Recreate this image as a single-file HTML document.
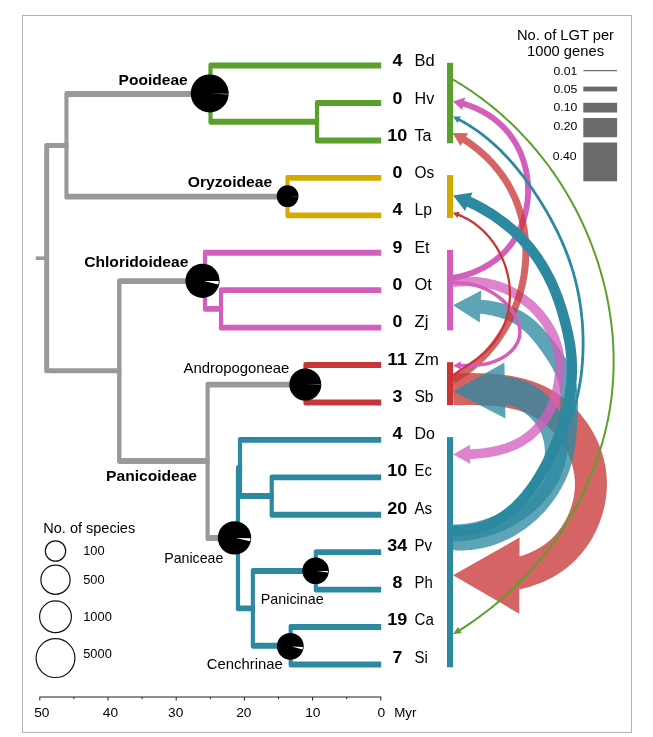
<!DOCTYPE html>
<html><head><meta charset="utf-8"><title>LGT among grasses</title>
<style>html,body{margin:0;padding:0;background:#fff;}svg{display:block;}text{font-family:"Liberation Sans",sans-serif;}</style></head><body>
<svg width="653" height="737" viewBox="0 0 653 737">
<rect x="0" y="0" width="653" height="737" fill="#fff"/>
<rect x="22.5" y="15.5" width="609" height="717" fill="none" stroke="#b4b4b4" stroke-width="1"/>
<path d="M35.8,258.2 H46.7" fill="none" stroke="#999999" stroke-width="3.6" stroke-linejoin="miter" stroke-linecap="butt" />
<path d="M68.5,142.9 H46.5 A2.2,2.2 0 0 0 44.2,145.1 V371 A2.2,2.2 0 0 0 46.5,373.2 H121.3 V368.2 H49.2 V147.9 H68.5 Z" fill="#999999"/>
<path d="M209,91 H66.6 A2.2,2.2 0 0 0 64.4,93.2 V197.4 A2.2,2.2 0 0 0 66.6,199.6 H287.5 V193.8 H68.5 V97 H209 Z" fill="#999999"/>
<path d="M202,278.2 H119.3 A2.2,2.2 0 0 0 117.1,280.4 V461.8 A2.2,2.2 0 0 0 119.3,463.9 H209.7 V458.1 H121.5 V284.1 H202 Z" fill="#999999"/>
<path d="M305.4,381.7 H207.7 A2.2,2.2 0 0 0 205.5,383.9 V538.8 A2.2,2.2 0 0 0 207.7,541 H235 V535 H209.7 V387.6 H305.4 Z" fill="#999999"/>
<path d="M381.2,62.6 H210.6 A2.2,2.2 0 0 0 208.4,64.8 V122.5 A2.2,2.2 0 0 0 210.6,124.7 H319.1 V118.8 H212.6 V68.5 H381.2 Z" fill="#5aa02c"/>
<path d="M381.2,100.1 H317.1 A2.2,2.2 0 0 0 314.9,102.3 V141.2 A2.2,2.2 0 0 0 317.1,143.4 H381.2 V137.5 H319.1 V106 H381.2 Z" fill="#5aa02c"/>
<path d="M381.2,174.9 H287.6 A2.2,2.2 0 0 0 285.4,177.1 V216.1 A2.2,2.2 0 0 0 287.6,218.3 H381.2 V212.4 H289.6 V180.8 H381.2 Z" fill="#d4aa00"/>
<path d="M381.2,249.8 H205.1 A2.2,2.2 0 0 0 202.9,252 V309.6 A2.2,2.2 0 0 0 205.1,311.8 H223.1 V305.9 H207.1 V255.7 H381.2 Z" fill="#d35fbc"/>
<path d="M381.2,287.2 H221.1 A2.2,2.2 0 0 0 218.9,289.4 V328.4 A2.2,2.2 0 0 0 221.1,330.6 H381.2 V324.7 H223.1 V293.1 H381.2 Z" fill="#d35fbc"/>
<path d="M381.2,362.1 H305.6 A2.2,2.2 0 0 0 303.4,364.3 V403.2 A2.2,2.2 0 0 0 305.6,405.4 H381.2 V399.5 H307.6 V368 H381.2 Z" fill="#c83737"/>
<path d="M242.1,465 H238.1 A2.2,2.2 0 0 0 235.9,467.2 V609.1 A2.2,2.2 0 0 0 238.1,611.3 H254.9 V605.4 H240.1 V470.9 H242.1 Z" fill="#2c89a0"/>
<path d="M381.2,436.9 H240.1 A2.2,2.2 0 0 0 237.9,439.1 V496.8 A2.2,2.2 0 0 0 240.1,499 H273.8 V493.1 H242.1 V442.8 H381.2 Z" fill="#2c89a0"/>
<path d="M381.2,474.4 H271.8 A2.2,2.2 0 0 0 269.6,476.6 V515.5 A2.2,2.2 0 0 0 271.8,517.7 H381.2 V511.8 H273.8 V480.3 H381.2 Z" fill="#2c89a0"/>
<path d="M315.8,568 H252.9 A2.2,2.2 0 0 0 250.8,570.2 V646.5 A2.2,2.2 0 0 0 252.9,648.7 H290.6 V642.8 H254.9 V573.9 H315.8 Z" fill="#2c89a0"/>
<path d="M381.2,549.2 H315.9 A2.2,2.2 0 0 0 313.8,551.4 V590.4 A2.2,2.2 0 0 0 315.9,592.6 H381.2 V586.7 H317.9 V555.1 H381.2 Z" fill="#2c89a0"/>
<path d="M381.2,624.1 H290.8 A2.2,2.2 0 0 0 288.6,626.3 V665.2 A2.2,2.2 0 0 0 290.8,667.4 H381.2 V661.5 H292.7 V630 H381.2 Z" fill="#2c89a0"/>
<circle cx="209.7" cy="93.4" r="19" fill="#000"/>
<path d="M211.2,93.5 L227.9,93.8 A18.2,18.2 0 0 1 227.9,94.6 Z" fill="#bdbdbd"/>
<circle cx="287.6" cy="196.2" r="10.9" fill="#000"/>
<path d="M289.1,196.3 L297.7,196.4 A10.1,10.1 0 0 1 297.7,197 Z" fill="#8a8a8a"/>
<circle cx="202.5" cy="280.8" r="17.1" fill="#000"/>
<path d="M204,281 L218.8,281.1 A16.3,16.3 0 0 1 218.3,284.6 Z" fill="#fff"/>
<circle cx="305.3" cy="384.6" r="16" fill="#000"/>
<path d="M306.8,384.6 L320.5,384.3 A15.2,15.2 0 0 1 320.5,385 Z" fill="#808080"/>
<circle cx="234.5" cy="537.9" r="16.7" fill="#000"/>
<path d="M236,538.1 L250.4,538.2 A15.9,15.9 0 0 1 250.1,541.2 Z" fill="#fff"/>
<circle cx="315.6" cy="570.8" r="13.3" fill="#000"/>
<path d="M317.1,570.9 L328.1,571.1 A12.5,12.5 0 0 1 328,572.4 Z" fill="#f4f4f4"/>
<circle cx="290.3" cy="646.3" r="13.4" fill="#000"/>
<path d="M291.8,646.5 L302.9,647 A12.6,12.6 0 0 1 302.5,649.6 Z" fill="#fff"/>
<rect x="447" y="62.8" width="6.1" height="80.5" fill="#5aa02c"/>
<rect x="447" y="175.1" width="6.1" height="43" fill="#d4aa00"/>
<rect x="447" y="249.9" width="6.1" height="80.5" fill="#d35fbc"/>
<rect x="447" y="362.2" width="6.1" height="43" fill="#c83737"/>
<rect x="447" y="437.1" width="6.1" height="230.2" fill="#2c89a0"/>
<path d="M452.8,373.4 L455.3,373.3 L457.9,373.3 L460.4,373.2 L463,373.2 L465.6,373.1 L468.2,373.1 L470.9,373.1 L473.5,373.1 L476.1,373.2 L478.8,373.2 L481.4,373.3 L484.1,373.4 L486.8,373.5 L489.5,373.6 L492.2,373.8 L494.9,374 L497.7,374.2 L500.4,374.5 L503.1,374.8 L505.9,375.2 L508.7,375.6 L511.4,376 L514.2,376.5 L517,377.1 L519.8,377.7 L522.6,378.4 L525.4,379.1 L528.1,379.9 L530.9,380.8 L533.7,381.7 L536.5,382.8 L539.3,383.9 L542,385.1 L544.7,386.3 L547.4,387.7 L550,389.1 L552.6,390.6 L555.1,392.2 L557.6,393.8 L560,395.5 L562.4,397.2 L564.8,399.1 L567.1,400.9 L569.3,402.9 L571.5,404.8 L573.6,406.9 L575.7,409 L577.7,411.1 L579.7,413.3 L581.6,415.6 L583.4,417.9 L585.2,420.2 L586.9,422.6 L588.6,425.1 L590.2,427.5 L591.7,430.1 L593.2,432.6 L594.6,435.2 L595.9,437.8 L597.2,440.5 L598.4,443.2 L599.5,446 L600.6,448.8 L601.6,451.6 L602.5,454.4 L603.3,457.3 L604,460.2 L604.7,463.1 L605.3,466 L605.8,469 L606.2,472 L606.5,475 L606.7,478 L606.9,481 L606.9,484 L606.9,487 L606.7,490 L606.5,493 L606.2,496 L605.8,499 L605.3,501.9 L604.8,504.8 L604.1,507.7 L603.4,510.6 L602.6,513.5 L601.8,516.3 L600.8,519.1 L599.8,521.9 L598.7,524.6 L597.6,527.4 L596.4,530.1 L595.1,532.7 L593.7,535.3 L592.3,537.9 L590.8,540.5 L589.2,543 L587.5,545.5 L585.8,547.9 L584,550.3 L582.2,552.6 L580.2,554.9 L578.2,557.1 L576.2,559.3 L574,561.5 L571.8,563.5 L569.6,565.5 L567.2,567.5 L564.8,569.3 L562.4,571.1 L559.9,572.8 L557.4,574.4 L554.8,576 L552.2,577.4 L549.6,578.8 L546.9,580.1 L544.3,581.4 L541.6,582.5 L538.9,583.6 L536.1,584.6 L533.4,585.6 L530.7,586.5 L527.9,587.3 L525.1,588.1 L522.4,588.8 L519.7,589.4 L512.4,558.2 L514.7,557.7 L516.9,557.2 L519,556.6 L521.1,555.9 L523.2,555.3 L525.2,554.5 L527.3,553.8 L529.3,553 L531.2,552.1 L533.1,551.2 L535,550.3 L536.9,549.3 L538.7,548.3 L540.5,547.2 L542.3,546.1 L543.9,545 L545.6,543.8 L547.2,542.5 L548.8,541.2 L550.3,539.9 L551.8,538.5 L553.3,537 L554.7,535.5 L556,534 L557.4,532.4 L558.7,530.7 L559.9,529.1 L561.1,527.4 L562.3,525.6 L563.4,523.8 L564.5,522 L565.5,520.2 L566.5,518.3 L567.4,516.4 L568.3,514.5 L569.1,512.5 L569.9,510.6 L570.6,508.6 L571.3,506.6 L571.9,504.6 L572.5,502.5 L573,500.5 L573.4,498.4 L573.8,496.4 L574.1,494.3 L574.4,492.3 L574.6,490.2 L574.8,488.1 L574.9,486.1 L574.9,484 L574.9,482 L574.8,479.9 L574.6,477.9 L574.4,475.8 L574.1,473.8 L573.8,471.7 L573.4,469.7 L572.9,467.7 L572.4,465.7 L571.8,463.7 L571.2,461.7 L570.5,459.7 L569.8,457.7 L569,455.8 L568.1,453.8 L567.2,451.9 L566.2,450.1 L565.2,448.2 L564.2,446.4 L563.1,444.5 L561.9,442.8 L560.7,441 L559.5,439.3 L558.2,437.6 L556.9,435.9 L555.5,434.3 L554.1,432.7 L552.6,431.2 L551.1,429.7 L549.6,428.2 L548.1,426.8 L546.5,425.4 L544.8,424.1 L543.2,422.8 L541.5,421.5 L539.7,420.3 L538,419.2 L536.2,418.1 L534.4,417 L532.5,416.1 L530.7,415.1 L528.8,414.2 L526.9,413.4 L525,412.6 L523,411.9 L521,411.2 L518.9,410.6 L516.8,410 L514.7,409.4 L512.6,408.9 L510.4,408.4 L508.2,408 L506,407.6 L503.8,407.2 L501.5,406.9 L499.3,406.6 L497,406.3 L494.7,406.1 L492.3,405.9 L490,405.7 L487.6,405.6 L485.3,405.4 L482.9,405.3 L480.5,405.3 L478.1,405.2 L475.7,405.2 L473.3,405.1 L470.8,405.1 L468.4,405.1 L465.9,405.1 L463.4,405.2 L460.9,405.2 L458.4,405.2 L455.9,405.3 L453.4,405.3Z M519.2,613.7 L453,575.2 L519.6,537.5Z" fill="#c83737" fill-rule="nonzero" fill-opacity="0.77"/>
<path d="M453.5,532.2 L455.9,532.3 L458.2,532.4 L460.5,532.4 L462.8,532.3 L465,532.2 L467.3,532 L469.6,531.7 L471.8,531.4 L474.1,531 L476.3,530.6 L478.5,530.1 L480.8,529.6 L483,529 L485.1,528.3 L487.3,527.6 L489.5,526.8 L491.6,526 L493.8,525.1 L495.9,524.2 L497.9,523.2 L500,522.2 L502,521.1 L504.1,520 L506.1,518.8 L508,517.6 L510,516.4 L511.9,515 L513.7,513.7 L515.6,512.3 L517.4,510.9 L519.2,509.4 L521,507.9 L522.7,506.4 L524.4,504.8 L526.1,503.2 L527.8,501.6 L529.4,499.9 L530.9,498.2 L532.4,496.4 L533.9,494.7 L535.4,492.8 L536.8,491 L538.2,489.1 L539.5,487.2 L540.8,485.3 L542.1,483.4 L543.3,481.4 L544.4,479.4 L545.5,477.4 L546.6,475.3 L547.6,473.2 L548.6,471.2 L549.5,469 L550.4,466.9 L551.2,464.8 L552,462.6 L552.7,460.4 L553.4,458.2 L554,456 L554.6,453.8 L555.1,451.5 L555.6,449.3 L556.1,446.9 L556.5,444.6 L556.9,442.3 L557.3,439.9 L557.6,437.5 L557.9,435.1 L558.2,432.7 L558.4,430.2 L558.7,427.8 L558.9,425.3 L559.1,422.8 L559.3,420.3 L559.5,417.9 L559.7,415.4 L559.9,412.9 L560.1,410.5 L560.3,408 L560.4,405.6 L560.4,403.3 L560.5,400.9 L560.5,398.6 L560.4,396.3 L560.3,394 L560.1,391.8 L559.8,389.6 L559.5,387.4 L559.1,385.3 L558.6,383.2 L558,381.1 L557.3,379 L556.5,376.9 L555.7,374.8 L554.7,372.8 L553.7,370.7 L552.7,368.7 L551.5,366.6 L550.3,364.6 L549.1,362.6 L547.8,360.5 L546.5,358.5 L545.1,356.5 L543.8,354.5 L542.4,352.5 L541,350.5 L539.5,348.5 L538.1,346.5 L536.6,344.6 L535.2,342.7 L533.7,340.9 L532.1,339.1 L530.6,337.3 L529,335.6 L527.4,333.9 L525.7,332.3 L524,330.8 L522.2,329.3 L520.5,327.9 L518.7,326.5 L516.8,325.3 L514.9,324.1 L512.9,323 L510.9,322 L508.9,321 L506.7,320.1 L504.6,319.3 L502.4,318.5 L500.2,317.8 L498,317.1 L495.7,316.5 L493.5,315.9 L491.1,315.3 L488.8,314.9 L486.5,314.4 L484.1,314.1 L481.7,313.8 L479.3,313.5 L476.9,313.2 L478.3,299.3 L480.8,299.6 L483.5,299.9 L486.1,300.2 L488.7,300.6 L491.3,301.1 L493.9,301.5 L496.6,302.1 L499.2,302.6 L501.8,303.3 L504.4,304 L507,304.8 L509.6,305.7 L512.2,306.7 L514.7,307.8 L517.2,308.9 L519.7,310.2 L522.2,311.6 L524.6,313 L526.9,314.5 L529.2,316.1 L531.4,317.8 L533.6,319.5 L535.7,321.3 L537.7,323.2 L539.6,325.1 L541.5,327 L543.4,328.9 L545.2,330.9 L547,332.9 L548.7,334.9 L550.4,336.9 L552,339 L553.6,341 L555.2,343.1 L556.8,345.2 L558.3,347.3 L559.8,349.4 L561.3,351.6 L562.8,353.8 L564.2,356 L565.7,358.3 L567,360.7 L568.4,363 L569.6,365.5 L570.9,368 L572,370.5 L573.1,373.2 L574,375.8 L574.9,378.6 L575.7,381.4 L576.3,384.2 L576.8,387 L577.2,389.8 L577.5,392.5 L577.8,395.3 L577.9,398 L578,400.8 L578,403.5 L578,406.1 L578,408.8 L577.9,411.4 L577.7,414 L577.6,416.6 L577.5,419.1 L577.3,421.7 L577.2,424.2 L577,426.7 L576.8,429.3 L576.6,431.9 L576.4,434.5 L576.2,437.1 L575.9,439.7 L575.6,442.3 L575.3,444.9 L574.9,447.6 L574.5,450.2 L574.1,452.9 L573.5,455.5 L573,458.2 L572.3,460.9 L571.6,463.5 L570.8,466.1 L570,468.8 L569,471.4 L568.1,473.9 L567,476.5 L565.9,479 L564.8,481.5 L563.5,483.9 L562.3,486.3 L561,488.7 L559.6,491.1 L558.2,493.4 L556.7,495.7 L555.2,498 L553.6,500.2 L552,502.4 L550.3,504.6 L548.6,506.7 L546.9,508.8 L545.1,510.9 L543.2,512.9 L541.4,514.8 L539.4,516.8 L537.5,518.7 L535.5,520.5 L533.4,522.3 L531.3,524.1 L529.2,525.8 L527,527.4 L524.8,529.1 L522.6,530.6 L520.3,532.1 L518,533.6 L515.7,535 L513.3,536.4 L510.9,537.7 L508.4,538.9 L506,540.1 L503.5,541.2 L500.9,542.3 L498.4,543.3 L495.8,544.3 L493.2,545.2 L490.6,546 L487.9,546.8 L485.3,547.5 L482.6,548.1 L479.9,548.6 L477.1,549.1 L474.4,549.5 L471.7,549.9 L468.9,550.1 L466.1,550.3 L463.4,550.4 L460.6,550.5 L457.8,550.4 L455.1,550.3 L452.4,550.1Z M479.8,322.6 L453,305.3 L481.3,290.6Z" fill="#2c89a0" fill-rule="nonzero" fill-opacity="0.77"/>
<path d="M453.2,524.4 L455.6,524.4 L458,524.3 L460.3,524.2 L462.6,524 L464.9,523.7 L467.3,523.4 L469.6,523.1 L471.9,522.7 L474.2,522.2 L476.5,521.7 L478.8,521.1 L481.1,520.5 L483.3,519.8 L485.6,519.1 L487.8,518.3 L490,517.5 L492.2,516.6 L494.4,515.7 L496.6,514.7 L498.7,513.7 L500.8,512.7 L502.9,511.6 L504.9,510.4 L507,509.2 L509,508 L511,506.7 L512.9,505.4 L514.8,504 L516.6,502.6 L518.5,501.1 L520.2,499.6 L522,498.1 L523.7,496.5 L525.3,494.9 L526.9,493.2 L528.4,491.5 L529.9,489.8 L531.4,488 L532.7,486.2 L534,484.3 L535.3,482.4 L536.4,480.5 L537.5,478.5 L538.5,476.5 L539.5,474.5 L540.4,472.5 L541.2,470.4 L541.9,468.3 L542.6,466.2 L543.2,464.1 L543.7,462 L544.1,459.9 L544.4,457.8 L544.6,455.6 L544.8,453.5 L544.8,451.4 L544.8,449.3 L544.6,447.2 L544.4,445.2 L544.1,443.2 L543.7,441.2 L543.2,439.3 L542.7,437.4 L542.1,435.6 L541.4,433.7 L540.6,431.9 L539.7,430.2 L538.7,428.5 L537.7,426.8 L536.6,425.1 L535.5,423.5 L534.2,422 L533,420.5 L531.6,419 L530.2,417.6 L528.8,416.3 L527.3,415 L525.8,413.7 L524.3,412.5 L522.8,411.4 L521.2,410.4 L519.5,409.5 L517.9,408.6 L516.2,407.8 L514.4,407.1 L512.6,406.5 L510.7,405.9 L508.8,405.4 L506.8,405 L504.8,404.6 L502.7,404.3 L500.4,404.1 L503.6,376.2 L506.3,376.6 L509.3,377 L512.3,377.5 L515.2,378.2 L518.2,379 L521.2,379.9 L524.2,380.9 L527.2,382.1 L530.1,383.4 L533,384.9 L535.8,386.5 L538.5,388.3 L541.1,390.1 L543.5,392 L545.9,394.1 L548.2,396.2 L550.4,398.5 L552.4,400.9 L554.3,403.4 L556.1,405.9 L557.8,408.6 L559.4,411.2 L560.9,414 L562.2,416.8 L563.4,419.7 L564.5,422.6 L565.4,425.6 L566.2,428.7 L566.9,431.7 L567.4,434.8 L567.7,437.9 L567.9,441 L567.9,444.1 L567.8,447.2 L567.6,450.2 L567.3,453.2 L566.8,456.1 L566.2,459 L565.5,461.9 L564.8,464.8 L564,467.6 L563,470.3 L562,473.1 L560.9,475.7 L559.7,478.4 L558.5,481 L557.1,483.5 L555.7,486 L554.2,488.4 L552.6,490.8 L550.9,493.1 L549.2,495.4 L547.5,497.6 L545.6,499.7 L543.8,501.8 L541.9,503.9 L539.9,505.9 L537.9,507.8 L535.9,509.7 L533.8,511.5 L531.7,513.3 L529.5,515 L527.3,516.7 L525.1,518.3 L522.8,519.8 L520.5,521.3 L518.2,522.8 L515.8,524.2 L513.4,525.6 L511,526.9 L508.6,528.1 L506.1,529.3 L503.7,530.4 L501.1,531.5 L498.6,532.5 L496.1,533.5 L493.5,534.4 L490.9,535.3 L488.3,536.1 L485.7,536.9 L483.1,537.6 L480.4,538.2 L477.7,538.8 L475.1,539.4 L472.4,539.9 L469.6,540.3 L466.9,540.6 L464.2,540.9 L461.4,541.1 L458.7,541.3 L455.9,541.4 L453.2,541.4Z M505.5,418.5 L453.1,391.5 L504.4,362.5Z" fill="#2c89a0" fill-rule="nonzero" fill-opacity="0.77"/>
<path d="M452.5,277.4 L455.1,277.2 L457.7,277 L460.3,276.9 L462.9,276.8 L465.5,276.7 L468.1,276.7 L470.8,276.8 L473.4,276.9 L476,277 L478.6,277.2 L481.3,277.5 L483.9,277.9 L486.5,278.3 L489.1,278.8 L491.7,279.4 L494.3,280 L496.9,280.7 L499.4,281.5 L501.9,282.4 L504.4,283.3 L506.9,284.3 L509.3,285.4 L511.7,286.5 L514.1,287.7 L516.4,289 L518.7,290.3 L521,291.7 L523.2,293.2 L525.4,294.7 L527.5,296.3 L529.6,297.9 L531.7,299.6 L533.7,301.3 L535.6,303.1 L537.5,305 L539.4,306.9 L541.2,308.8 L543,310.8 L544.7,312.8 L546.3,314.9 L547.9,317 L549.5,319.2 L550.9,321.4 L552.3,323.7 L553.7,326 L555,328.3 L556.2,330.7 L557.4,333.1 L558.4,335.5 L559.4,338 L560.3,340.6 L561.2,343.1 L561.9,345.7 L562.6,348.3 L563.1,350.9 L563.6,353.6 L564,356.3 L564.2,358.9 L564.4,361.6 L564.6,364.2 L564.6,366.9 L564.6,369.6 L564.5,372.2 L564.3,374.9 L564,377.5 L563.7,380.1 L563.4,382.8 L562.9,385.4 L562.4,388 L561.8,390.5 L561.2,393.1 L560.5,395.7 L559.8,398.2 L558.9,400.7 L558.1,403.2 L557.1,405.7 L556.1,408.1 L555,410.6 L553.8,413 L552.6,415.3 L551.3,417.7 L549.9,420 L548.4,422.2 L546.9,424.4 L545.3,426.6 L543.6,428.7 L541.8,430.7 L540,432.7 L538.1,434.6 L536.1,436.4 L534.1,438.2 L532,439.9 L529.8,441.5 L527.6,443.1 L525.4,444.5 L523.1,445.9 L520.7,447.2 L518.3,448.4 L515.9,449.6 L513.4,450.6 L510.9,451.6 L508.4,452.5 L505.9,453.3 L503.3,454.1 L500.8,454.7 L498.2,455.4 L495.6,455.9 L493.1,456.4 L490.5,456.9 L487.9,457.3 L485.3,457.7 L482.8,458 L480.2,458.3 L477.6,458.5 L475,458.7 L472.4,458.9 L469.8,459 L467.3,459.1 L466.9,449.5 L469.4,449.4 L471.8,449.3 L474.3,449.1 L476.8,449 L479.2,448.7 L481.6,448.5 L484.1,448.2 L486.5,447.8 L488.9,447.4 L491.3,447 L493.7,446.5 L496,446 L498.4,445.4 L500.7,444.8 L503,444.1 L505.3,443.4 L507.6,442.6 L509.8,441.7 L511.9,440.8 L514.1,439.8 L516.2,438.7 L518.3,437.6 L520.3,436.4 L522.3,435.1 L524.2,433.7 L526.1,432.3 L527.9,430.8 L529.7,429.3 L531.4,427.7 L533,426 L534.7,424.3 L536.2,422.5 L537.7,420.7 L539.1,418.8 L540.5,416.8 L541.7,414.9 L543,412.8 L544.1,410.8 L545.2,408.6 L546.3,406.5 L547.3,404.3 L548.2,402.1 L549.1,399.9 L549.9,397.6 L550.6,395.3 L551.3,393 L551.9,390.7 L552.5,388.4 L553,386 L553.5,383.6 L553.9,381.3 L554.2,378.9 L554.5,376.5 L554.7,374.1 L554.9,371.7 L555,369.3 L555,366.9 L555,364.6 L554.9,362.2 L554.7,359.8 L554.4,357.4 L554.1,355.1 L553.7,352.8 L553.2,350.5 L552.6,348.2 L552,345.9 L551.3,343.7 L550.4,341.4 L549.6,339.2 L548.6,337.1 L547.6,334.9 L546.5,332.8 L545.4,330.7 L544.1,328.7 L542.9,326.6 L541.5,324.6 L540.2,322.7 L538.7,320.8 L537.2,318.9 L535.7,317.1 L534.1,315.3 L532.5,313.5 L530.8,311.8 L529.1,310.1 L527.3,308.5 L525.5,306.9 L523.6,305.4 L521.7,303.9 L519.8,302.5 L517.8,301.1 L515.8,299.8 L513.8,298.6 L511.7,297.4 L509.6,296.2 L507.5,295.1 L505.3,294.1 L503.1,293.1 L500.9,292.2 L498.7,291.4 L496.4,290.6 L494.2,289.9 L491.9,289.3 L489.5,288.7 L487.2,288.2 L484.9,287.7 L482.5,287.4 L480.1,287.1 L477.7,286.8 L475.3,286.6 L472.9,286.4 L470.5,286.3 L468,286.3 L465.6,286.3 L463.2,286.4 L460.7,286.4 L458.3,286.6 L455.8,286.7 L453.4,287Z M470.2,463.7 L453.1,454.5 L469.9,444.7Z" fill="#d35fbc" fill-rule="nonzero" fill-opacity="0.77"/>
<path d="M452.4,275.1 L454.8,274.6 L457.2,274.1 L459.6,273.6 L462,272.9 L464.4,272.3 L466.7,271.5 L469,270.7 L471.3,269.9 L473.6,269 L475.9,268 L478.1,267 L480.3,265.9 L482.5,264.8 L484.6,263.6 L486.8,262.3 L488.8,261 L490.9,259.7 L492.8,258.2 L494.8,256.8 L496.7,255.2 L498.5,253.6 L500.3,252 L502.1,250.3 L503.7,248.5 L505.3,246.7 L506.9,244.8 L508.4,242.9 L509.8,240.9 L511.2,238.9 L512.5,236.9 L513.7,234.8 L514.9,232.6 L516,230.4 L517.1,228.2 L518,226 L519,223.7 L519.8,221.4 L520.6,219.1 L521.3,216.8 L522,214.4 L522.6,212 L523.1,209.6 L523.6,207.2 L524,204.8 L524.4,202.4 L524.6,200 L524.8,197.5 L525,195.1 L525.1,192.6 L525.1,190.2 L525.1,187.7 L525,185.2 L524.8,182.8 L524.6,180.4 L524.3,177.9 L523.9,175.5 L523.5,173.1 L523,170.7 L522.5,168.3 L521.9,165.9 L521.2,163.5 L520.5,161.2 L519.7,158.9 L518.8,156.6 L517.9,154.3 L516.9,152.1 L515.8,149.9 L514.7,147.7 L513.6,145.6 L512.3,143.5 L511,141.4 L509.7,139.4 L508.2,137.4 L506.8,135.4 L505.2,133.6 L503.6,131.7 L502,129.9 L500.3,128.2 L498.5,126.5 L496.7,124.9 L494.8,123.3 L492.9,121.8 L490.9,120.3 L488.9,118.9 L486.9,117.6 L484.8,116.3 L482.7,115 L480.5,113.8 L478.4,112.7 L476.2,111.7 L473.9,110.6 L471.7,109.7 L469.4,108.8 L467.1,108 L464.7,107.2 L462.4,106.5 L460,105.9 L461.5,100.2 L464,100.8 L466.5,101.6 L469,102.4 L471.4,103.3 L473.9,104.2 L476.3,105.2 L478.6,106.3 L481,107.4 L483.3,108.6 L485.6,109.9 L487.9,111.2 L490.1,112.6 L492.3,114 L494.4,115.6 L496.5,117.1 L498.5,118.7 L500.5,120.4 L502.5,122.2 L504.4,124 L506.2,125.9 L508,127.8 L509.7,129.8 L511.4,131.8 L513,133.9 L514.5,136 L516,138.2 L517.4,140.4 L518.7,142.7 L519.9,144.9 L521.1,147.3 L522.3,149.6 L523.3,152 L524.3,154.5 L525.2,156.9 L526.1,159.4 L526.9,161.9 L527.6,164.4 L528.2,166.9 L528.8,169.4 L529.3,172 L529.8,174.6 L530.1,177.1 L530.5,179.7 L530.7,182.3 L530.9,184.9 L531,187.5 L531,190.1 L531,192.7 L530.9,195.4 L530.7,198 L530.5,200.6 L530.2,203.1 L529.8,205.7 L529.4,208.3 L528.9,210.9 L528.3,213.4 L527.7,215.9 L527,218.4 L526.2,220.9 L525.4,223.4 L524.5,225.9 L523.5,228.3 L522.4,230.7 L521.3,233.1 L520.1,235.4 L518.9,237.7 L517.5,239.9 L516.1,242.2 L514.7,244.3 L513.1,246.5 L511.5,248.5 L509.8,250.6 L508.1,252.5 L506.3,254.4 L504.4,256.3 L502.5,258 L500.5,259.8 L498.4,261.4 L496.3,263 L494.2,264.5 L492,266 L489.8,267.4 L487.6,268.7 L485.3,270 L483,271.2 L480.6,272.3 L478.3,273.4 L475.9,274.4 L473.5,275.4 L471,276.3 L468.6,277.1 L466.1,277.9 L463.6,278.6 L461.1,279.3 L458.5,279.9 L456,280.4 L453.5,280.9Z M462.2,110.1 L452.9,101.4 L465.1,97.5Z" fill="#d35fbc" fill-rule="nonzero"/>
<path d="M451.3,376.9 L453.5,375.7 L455.6,374.4 L457.7,373.1 L459.8,371.8 L461.8,370.4 L463.8,369 L465.8,367.5 L467.8,366 L469.7,364.5 L471.6,362.9 L473.4,361.3 L475.3,359.7 L477.1,358 L478.9,356.3 L480.6,354.5 L482.3,352.8 L484,351 L485.7,349.1 L487.3,347.3 L488.9,345.4 L490.4,343.4 L491.9,341.5 L493.4,339.5 L494.9,337.5 L496.3,335.5 L497.7,333.4 L499,331.4 L500.3,329.3 L501.6,327.2 L502.8,325 L504,322.9 L505.2,320.7 L506.3,318.5 L507.4,316.3 L508.5,314 L509.5,311.8 L510.5,309.5 L511.4,307.2 L512.4,304.9 L513.2,302.6 L514.1,300.3 L514.9,298 L515.6,295.6 L516.3,293.2 L517,290.9 L517.7,288.5 L518.3,286.1 L518.8,283.7 L519.4,281.2 L519.8,278.8 L520.3,276.4 L520.7,273.9 L521,271.5 L521.3,269.1 L521.6,266.6 L521.9,264.1 L522,261.7 L522.2,259.2 L522.3,256.7 L522.4,254.3 L522.4,251.8 L522.3,249.3 L522.3,246.9 L522.2,244.4 L522,241.9 L521.8,239.5 L521.6,237 L521.3,234.6 L520.9,232.1 L520.5,229.7 L520.1,227.3 L519.7,224.8 L519.1,222.4 L518.6,220 L518,217.6 L517.3,215.3 L516.6,212.9 L515.9,210.5 L515.1,208.2 L514.3,205.9 L513.4,203.6 L512.5,201.3 L511.6,199 L510.5,196.8 L509.5,194.6 L508.4,192.4 L507.3,190.2 L506.1,188 L504.8,185.9 L503.6,183.8 L502.2,181.7 L500.9,179.7 L499.5,177.7 L498,175.7 L496.6,173.7 L495,171.8 L493.5,169.9 L491.9,168 L490.2,166.1 L488.6,164.3 L486.9,162.5 L485.1,160.8 L483.4,159.1 L481.6,157.4 L479.7,155.7 L477.9,154.1 L476,152.5 L474.1,151 L472.1,149.4 L470.2,148 L468.2,146.5 L466.1,145.1 L464.1,143.7 L462,142.3 L459.9,141 L463.6,135.1 L465.8,136.5 L468,137.9 L470.1,139.3 L472.2,140.8 L474.3,142.3 L476.4,143.9 L478.4,145.5 L480.5,147.1 L482.4,148.8 L484.4,150.5 L486.3,152.2 L488.2,154 L490.1,155.8 L491.9,157.7 L493.7,159.5 L495.4,161.5 L497.2,163.4 L498.8,165.4 L500.5,167.4 L502.1,169.4 L503.7,171.5 L505.2,173.6 L506.7,175.8 L508.1,177.9 L509.5,180.1 L510.9,182.3 L512.2,184.6 L513.4,186.9 L514.6,189.2 L515.8,191.5 L516.9,193.9 L518,196.2 L519,198.6 L520,201 L520.9,203.5 L521.7,205.9 L522.6,208.4 L523.3,210.9 L524.1,213.4 L524.8,215.9 L525.4,218.4 L526,220.9 L526.5,223.5 L527,226 L527.5,228.6 L527.9,231.1 L528.2,233.7 L528.5,236.3 L528.8,238.8 L529,241.4 L529.1,244 L529.3,246.6 L529.3,249.2 L529.4,251.8 L529.4,254.4 L529.3,257 L529.2,259.6 L529,262.2 L528.8,264.7 L528.6,267.3 L528.3,269.9 L528,272.5 L527.6,275 L527.2,277.6 L526.7,280.1 L526.2,282.7 L525.7,285.2 L525.1,287.7 L524.4,290.2 L523.8,292.7 L523.1,295.2 L522.3,297.7 L521.5,300.2 L520.7,302.6 L519.8,305 L518.9,307.5 L517.9,309.9 L516.9,312.3 L515.9,314.6 L514.8,317 L513.7,319.3 L512.6,321.6 L511.4,323.9 L510.2,326.2 L508.9,328.5 L507.6,330.7 L506.3,332.9 L504.9,335.1 L503.5,337.3 L502,339.5 L500.6,341.6 L499,343.7 L497.5,345.8 L495.9,347.8 L494.3,349.8 L492.6,351.8 L490.9,353.8 L489.2,355.7 L487.4,357.6 L485.6,359.5 L483.8,361.3 L481.9,363.1 L480,364.9 L478.1,366.6 L476.1,368.3 L474.1,369.9 L472.1,371.6 L470,373.1 L467.9,374.7 L465.8,376.2 L463.6,377.6 L461.5,379.1 L459.2,380.4 L457,381.8 L454.8,383Z M460.5,146.1 L452.6,132.9 L468.1,133.2Z" fill="#c83737" fill-rule="nonzero" fill-opacity="0.77"/>
<path d="M452.9,281.3 L455.5,281.2 L458.1,281.2 L460.7,281.2 L463.3,281.4 L465.9,281.7 L468.5,282 L471.1,282.5 L473.7,283 L476.2,283.7 L478.7,284.4 L481.2,285.3 L483.7,286.2 L486.1,287.3 L488.5,288.4 L490.8,289.7 L493,291 L495.3,292.4 L497.4,293.9 L499.5,295.5 L501.6,297.1 L503.5,298.8 L505.5,300.6 L507.3,302.4 L509.1,304.4 L510.8,306.3 L512.5,308.4 L514,310.5 L515.5,312.7 L516.8,315 L518.1,317.4 L519.1,319.8 L520,322.4 L520.8,324.9 L521.3,327.6 L521.6,330.3 L521.6,333 L521.4,335.8 L520.9,338.4 L520,341.1 L518.9,343.6 L517.6,345.9 L516.1,348.2 L514.4,350.3 L512.6,352.2 L510.6,354 L508.5,355.7 L506.4,357.3 L504.2,358.7 L501.9,360 L499.5,361.2 L497.1,362.3 L494.6,363.3 L492.1,364.1 L489.6,364.9 L487,365.5 L484.4,365.9 L481.8,366.3 L479.2,366.6 L476.6,366.8 L474,367 L471.5,367.1 L468.9,367.1 L466.3,367.2 L463.8,367.2 L461.2,367.2 L458.7,367.3 L458.6,363.8 L461.1,363.7 L463.7,363.7 L466.3,363.7 L468.8,363.6 L471.4,363.6 L473.9,363.5 L476.4,363.3 L478.9,363.1 L481.4,362.9 L483.9,362.5 L486.3,362 L488.7,361.5 L491.1,360.8 L493.4,360 L495.7,359.1 L498,358.1 L500.2,357 L502.3,355.7 L504.4,354.4 L506.4,353 L508.3,351.4 L510.1,349.7 L511.8,348 L513.3,346.1 L514.6,344.1 L515.8,342 L516.8,339.8 L517.5,337.6 L517.9,335.3 L518.1,332.9 L518.1,330.5 L517.8,328.1 L517.4,325.8 L516.7,323.4 L515.9,321.1 L514.9,318.9 L513.8,316.7 L512.5,314.6 L511.2,312.5 L509.7,310.5 L508.1,308.6 L506.5,306.7 L504.8,304.9 L503,303.1 L501.2,301.4 L499.3,299.8 L497.4,298.2 L495.4,296.7 L493.3,295.3 L491.2,294 L489.1,292.7 L486.9,291.5 L484.6,290.5 L482.4,289.5 L480,288.6 L477.7,287.8 L475.3,287 L472.9,286.4 L470.4,285.9 L468,285.5 L465.5,285.1 L463,284.9 L460.6,284.7 L458.1,284.7 L455.6,284.7 L453,284.8Z M461.2,369.7 L453,365.8 L460.8,361.2Z" fill="#d35fbc" fill-rule="nonzero"/>
<path d="M452.3,374.4 L454.4,373 L456.5,371.5 L458.6,370.1 L460.7,368.7 L462.8,367.2 L464.9,365.8 L467,364.4 L469.1,362.9 L471.2,361.5 L473.3,360 L475.3,358.5 L477.4,357 L479.3,355.4 L481.3,353.8 L483.2,352.2 L485.1,350.5 L486.9,348.8 L488.7,347 L490.4,345.1 L492,343.2 L493.5,341.2 L495,339.2 L496.4,337.1 L497.8,335 L499,332.8 L500.2,330.6 L501.3,328.4 L502.3,326.1 L503.3,323.7 L504.2,321.4 L505,319 L505.7,316.6 L506.3,314.2 L506.9,311.7 L507.4,309.2 L507.8,306.8 L508.2,304.3 L508.4,301.8 L508.6,299.3 L508.8,296.7 L508.8,294.2 L508.8,291.7 L508.6,289.2 L508.5,286.7 L508.2,284.2 L507.9,281.7 L507.5,279.2 L507,276.7 L506.4,274.3 L505.8,271.8 L505.1,269.4 L504.4,267 L503.6,264.6 L502.7,262.3 L501.7,259.9 L500.7,257.6 L499.6,255.3 L498.5,253.1 L497.3,250.9 L496,248.7 L494.7,246.6 L493.3,244.5 L491.8,242.4 L490.3,240.4 L488.8,238.4 L487.1,236.5 L485.4,234.7 L483.7,232.9 L481.9,231.1 L480,229.4 L478.1,227.8 L476.2,226.2 L474.1,224.7 L472.1,223.3 L470,221.9 L467.8,220.6 L465.6,219.4 L463.4,218.2 L461.1,217.2 L458.8,216.2 L456.4,215.3 L457.3,213.1 L459.7,214 L462.1,215.1 L464.4,216.2 L466.7,217.3 L469,218.6 L471.2,219.9 L473.4,221.3 L475.5,222.8 L477.6,224.4 L479.6,226 L481.5,227.7 L483.5,229.4 L485.3,231.2 L487.1,233.1 L488.8,235 L490.5,237 L492.1,239 L493.7,241.1 L495.2,243.2 L496.6,245.3 L498,247.5 L499.3,249.8 L500.5,252 L501.7,254.3 L502.8,256.7 L503.9,259 L504.8,261.4 L505.7,263.8 L506.6,266.3 L507.3,268.7 L508,271.2 L508.7,273.7 L509.2,276.3 L509.7,278.8 L510.1,281.3 L510.5,283.9 L510.7,286.5 L510.9,289.1 L511,291.6 L511.1,294.2 L511.1,296.8 L510.9,299.4 L510.7,302 L510.5,304.5 L510.1,307.1 L509.7,309.7 L509.2,312.2 L508.6,314.7 L507.9,317.2 L507.2,319.7 L506.3,322.1 L505.4,324.6 L504.5,327 L503.4,329.3 L502.2,331.7 L501,333.9 L499.7,336.2 L498.4,338.4 L496.9,340.5 L495.4,342.6 L493.8,344.7 L492.1,346.6 L490.3,348.5 L488.5,350.4 L486.7,352.2 L484.7,353.9 L482.8,355.6 L480.8,357.2 L478.8,358.8 L476.7,360.4 L474.6,361.9 L472.6,363.4 L470.5,364.8 L468.3,366.3 L466.2,367.7 L464.1,369.1 L462,370.6 L459.9,372 L457.8,373.4 L455.7,374.9 L453.6,376.3Z M457.5,217.9 L452.9,212.8 L459.6,211.8Z" fill="#c83737" fill-rule="nonzero"/>
<path d="M453.2,525.2 L455.6,525.3 L458,525.4 L460.3,525.4 L462.7,525.2 L465,525 L467.3,524.8 L469.7,524.4 L472,524 L474.3,523.5 L476.6,523 L478.8,522.3 L481.1,521.6 L483.3,520.8 L485.5,520 L487.7,519 L489.9,518.1 L492,517 L494.1,515.9 L496.2,514.7 L498.2,513.5 L500.2,512.2 L502.2,510.9 L504.1,509.5 L506,508 L507.8,506.5 L509.7,505 L511.5,503.4 L513.2,501.8 L514.9,500.1 L516.6,498.3 L518.2,496.6 L519.8,494.8 L521.4,492.9 L522.9,491 L524.4,489.1 L525.9,487.2 L527.3,485.2 L528.7,483.2 L530.1,481.2 L531.5,479.2 L532.8,477.1 L534.1,475 L535.4,472.9 L536.6,470.8 L537.9,468.7 L539.1,466.5 L540.3,464.4 L541.4,462.2 L542.6,460 L543.7,457.8 L544.8,455.6 L545.9,453.3 L546.9,451.1 L548,448.9 L549,446.6 L549.9,444.3 L550.9,442.1 L551.8,439.8 L552.8,437.5 L553.6,435.2 L554.5,432.9 L555.3,430.6 L556.2,428.2 L556.9,425.9 L557.7,423.5 L558.4,421.2 L559.1,418.8 L559.8,416.5 L560.4,414.1 L561.1,411.7 L561.6,409.3 L562.2,406.9 L562.7,404.5 L563.2,402.1 L563.7,399.7 L564.1,397.3 L564.5,394.9 L564.9,392.4 L565.2,390 L565.5,387.6 L565.8,385.2 L566,382.7 L566.2,380.3 L566.3,377.8 L566.4,375.4 L566.5,372.9 L566.6,370.5 L566.6,368.1 L566.5,365.6 L566.5,363.2 L566.4,360.7 L566.2,358.3 L566,355.9 L565.8,353.4 L565.5,351 L565.2,348.6 L564.9,346.2 L564.5,343.8 L564.1,341.3 L563.6,338.9 L563.1,336.5 L562.6,334.1 L562.1,331.7 L561.5,329.3 L561,326.9 L560.3,324.5 L559.7,322.1 L559.1,319.7 L558.4,317.3 L557.7,314.9 L557,312.5 L556.3,310.2 L555.6,307.8 L554.8,305.5 L554,303.1 L553.2,300.8 L552.3,298.5 L551.5,296.2 L550.6,293.9 L549.6,291.6 L548.7,289.4 L547.7,287.1 L546.7,284.9 L545.6,282.7 L544.5,280.5 L543.4,278.3 L542.3,276.1 L541.1,274 L539.9,271.9 L538.7,269.8 L537.4,267.7 L536.1,265.6 L534.8,263.5 L533.4,261.5 L532,259.5 L530.6,257.5 L529.1,255.6 L527.6,253.6 L526.1,251.7 L524.6,249.9 L523,248 L521.4,246.2 L519.7,244.4 L518.1,242.6 L516.4,240.9 L514.6,239.1 L512.9,237.4 L511.1,235.8 L509.3,234.1 L507.4,232.5 L505.6,230.9 L503.7,229.4 L501.8,227.9 L499.8,226.4 L497.9,224.9 L495.9,223.4 L493.9,222 L491.9,220.6 L489.9,219.3 L487.8,218 L485.7,216.7 L483.6,215.4 L481.5,214.2 L479.4,212.9 L477.2,211.8 L475.1,210.6 L472.9,209.5 L470.7,208.4 L468.5,207.3 L466.3,206.3 L464,205.3 L468.2,195.7 L470.6,196.8 L472.9,197.8 L475.3,199 L477.6,200.1 L479.9,201.3 L482.2,202.5 L484.5,203.8 L486.8,205.1 L489,206.4 L491.2,207.7 L493.4,209.1 L495.6,210.5 L497.8,211.9 L499.9,213.4 L502,214.9 L504.1,216.5 L506.2,218 L508.3,219.6 L510.3,221.2 L512.3,222.9 L514.3,224.6 L516.3,226.3 L518.2,228 L520.1,229.8 L522,231.6 L523.8,233.5 L525.6,235.3 L527.4,237.2 L529.2,239.2 L530.9,241.1 L532.6,243.1 L534.3,245.1 L535.9,247.2 L537.5,249.2 L539,251.3 L540.6,253.4 L542.1,255.6 L543.5,257.8 L544.9,259.9 L546.3,262.1 L547.7,264.4 L549,266.6 L550.3,268.9 L551.5,271.2 L552.7,273.5 L553.9,275.8 L555.1,278.1 L556.2,280.5 L557.3,282.8 L558.3,285.2 L559.3,287.6 L560.3,290 L561.2,292.4 L562.2,294.8 L563.1,297.3 L563.9,299.7 L564.7,302.1 L565.5,304.6 L566.3,307 L567.1,309.5 L567.8,312 L568.5,314.4 L569.2,316.9 L569.9,319.4 L570.5,321.9 L571.1,324.4 L571.8,326.9 L572.3,329.4 L572.9,331.9 L573.4,334.4 L573.9,336.9 L574.4,339.5 L574.9,342.1 L575.3,344.6 L575.6,347.2 L576,349.8 L576.2,352.4 L576.5,355 L576.7,357.6 L576.8,360.2 L577,362.8 L577,365.4 L577.1,368 L577.1,370.6 L577,373.2 L576.9,375.8 L576.8,378.4 L576.6,381 L576.4,383.6 L576.2,386.2 L575.9,388.8 L575.6,391.4 L575.3,393.9 L574.9,396.5 L574.5,399.1 L574,401.6 L573.5,404.2 L573,406.7 L572.4,409.2 L571.9,411.8 L571.2,414.3 L570.6,416.8 L569.9,419.3 L569.2,421.8 L568.5,424.2 L567.7,426.7 L566.9,429.2 L566.1,431.6 L565.2,434.1 L564.4,436.5 L563.5,438.9 L562.5,441.3 L561.6,443.7 L560.6,446.1 L559.6,448.5 L558.6,450.8 L557.5,453.2 L556.4,455.5 L555.3,457.9 L554.2,460.2 L553.1,462.5 L551.9,464.8 L550.7,467.1 L549.5,469.4 L548.3,471.6 L547,473.9 L545.7,476.1 L544.4,478.3 L543,480.5 L541.7,482.7 L540.2,484.9 L538.8,487.1 L537.3,489.2 L535.8,491.3 L534.3,493.5 L532.7,495.5 L531.1,497.6 L529.4,499.6 L527.7,501.6 L526,503.6 L524.2,505.6 L522.4,507.5 L520.5,509.3 L518.5,511.1 L516.6,512.9 L514.5,514.6 L512.5,516.3 L510.3,517.9 L508.2,519.5 L506,521 L503.7,522.4 L501.5,523.8 L499.1,525.1 L496.8,526.4 L494.4,527.5 L491.9,528.7 L489.5,529.7 L487,530.7 L484.4,531.6 L481.9,532.4 L479.3,533.1 L476.7,533.8 L474,534.3 L471.4,534.8 L468.7,535.2 L466,535.5 L463.3,535.7 L460.6,535.8 L457.9,535.9 L455.3,535.8 L452.6,535.7Z M465.1,211 L453.1,195.4 L472.5,192.4Z" fill="#2c89a0" fill-rule="nonzero"/>
<path d="M452.9,532.6 L455.4,532.5 L457.9,532.4 L460.4,532.2 L462.9,531.9 L465.3,531.6 L467.8,531.2 L470.2,530.7 L472.6,530.2 L475,529.6 L477.4,529 L479.8,528.3 L482.2,527.5 L484.5,526.7 L486.8,525.8 L489.1,524.8 L491.4,523.8 L493.6,522.8 L495.8,521.6 L498,520.4 L500.1,519.2 L502.3,517.9 L504.3,516.5 L506.4,515.1 L508.3,513.6 L510.3,512.1 L512.2,510.5 L514,508.8 L515.8,507.1 L517.5,505.4 L519.2,503.6 L520.9,501.7 L522.5,499.8 L524,497.9 L525.6,495.9 L527.1,493.9 L528.5,491.9 L530,489.8 L531.4,487.8 L532.8,485.7 L534.2,483.6 L535.5,481.5 L536.9,479.4 L538.2,477.3 L539.6,475.1 L540.9,473 L542.3,470.9 L543.6,468.8 L544.9,466.6 L546.2,464.5 L547.5,462.3 L548.8,460.2 L550,458 L551.3,455.8 L552.5,453.6 L553.7,451.4 L554.9,449.2 L556.1,447 L557.2,444.8 L558.4,442.6 L559.5,440.3 L560.6,438.1 L561.7,435.8 L562.7,433.5 L563.8,431.3 L564.8,429 L565.8,426.7 L566.7,424.4 L567.7,422 L568.6,419.7 L569.4,417.4 L570.3,415 L571.1,412.7 L571.9,410.3 L572.7,407.9 L573.4,405.5 L574.1,403.1 L574.8,400.7 L575.4,398.3 L576,395.9 L576.5,393.4 L577.1,391 L577.6,388.5 L578,386.1 L578.5,383.6 L578.9,381.2 L579.3,378.7 L579.6,376.2 L579.9,373.7 L580.2,371.2 L580.5,368.8 L580.7,366.3 L580.9,363.8 L581.1,361.3 L581.2,358.8 L581.4,356.3 L581.5,353.8 L581.6,351.3 L581.6,348.8 L581.7,346.3 L581.7,343.8 L581.7,341.3 L581.7,338.7 L581.6,336.2 L581.5,333.7 L581.4,331.2 L581.3,328.7 L581.1,326.2 L581,323.7 L580.8,321.2 L580.6,318.7 L580.3,316.3 L580,313.8 L579.8,311.3 L579.4,308.8 L579.1,306.3 L578.7,303.8 L578.3,301.4 L577.9,298.9 L577.5,296.4 L577,294 L576.5,291.5 L576,289.1 L575.5,286.6 L574.9,284.2 L574.3,281.8 L573.7,279.3 L573,276.9 L572.4,274.5 L571.7,272.1 L571,269.7 L570.2,267.3 L569.4,264.9 L568.6,262.6 L567.8,260.2 L567,257.8 L566.1,255.5 L565.2,253.2 L564.3,250.8 L563.3,248.5 L562.4,246.2 L561.4,243.9 L560.4,241.6 L559.4,239.3 L558.3,237 L557.3,234.8 L556.2,232.5 L555.1,230.3 L553.9,228 L552.8,225.8 L551.6,223.6 L550.4,221.4 L549.2,219.2 L548,217 L546.8,214.8 L545.6,212.6 L544.3,210.5 L543,208.3 L541.7,206.2 L540.4,204 L539.1,201.9 L537.7,199.8 L536.4,197.7 L535,195.6 L533.6,193.5 L532.2,191.4 L530.8,189.3 L529.4,187.3 L527.9,185.2 L526.5,183.2 L525,181.2 L523.5,179.1 L522,177.1 L520.5,175.2 L518.9,173.2 L517.4,171.2 L515.8,169.3 L514.2,167.4 L512.6,165.5 L510.9,163.6 L509.3,161.7 L507.6,159.8 L505.9,158 L504.2,156.2 L502.4,154.4 L500.7,152.6 L498.9,150.8 L497.1,149.1 L495.3,147.4 L493.4,145.7 L491.6,144 L489.7,142.4 L487.8,140.8 L485.9,139.2 L483.9,137.6 L481.9,136.1 L480,134.6 L477.9,133.1 L475.9,131.6 L473.9,130.2 L471.8,128.8 L469.7,127.5 L467.6,126.1 L465.4,124.8 L463.3,123.6 L461.1,122.3 L458.9,121.2 L456.7,120 L458,117.5 L460.2,118.7 L462.5,119.9 L464.7,121.1 L466.9,122.4 L469,123.7 L471.2,125.1 L473.3,126.5 L475.4,127.9 L477.5,129.3 L479.6,130.8 L481.6,132.3 L483.7,133.8 L485.7,135.4 L487.6,137 L489.6,138.6 L491.5,140.3 L493.4,141.9 L495.3,143.6 L497.2,145.3 L499,147.1 L500.9,148.8 L502.7,150.6 L504.4,152.4 L506.2,154.2 L507.9,156.1 L509.7,157.9 L511.3,159.8 L513,161.7 L514.7,163.6 L516.3,165.6 L517.9,167.5 L519.5,169.5 L521.1,171.4 L522.7,173.4 L524.2,175.4 L525.7,177.5 L527.2,179.5 L528.7,181.5 L530.2,183.6 L531.7,185.7 L533.1,187.7 L534.5,189.8 L535.9,191.9 L537.3,194 L538.7,196.1 L540.1,198.3 L541.4,200.4 L542.8,202.5 L544.1,204.7 L545.4,206.9 L546.7,209 L548,211.2 L549.2,213.4 L550.5,215.6 L551.7,217.8 L552.9,220 L554.1,222.3 L555.3,224.5 L556.4,226.8 L557.6,229 L558.7,231.3 L559.8,233.6 L560.9,235.9 L561.9,238.2 L563,240.5 L564,242.8 L565,245.1 L565.9,247.4 L566.9,249.8 L567.8,252.1 L568.7,254.5 L569.6,256.9 L570.5,259.3 L571.3,261.7 L572.1,264.1 L572.9,266.5 L573.6,268.9 L574.4,271.3 L575.1,273.7 L575.7,276.2 L576.4,278.6 L577,281.1 L577.6,283.5 L578.2,286 L578.7,288.5 L579.3,291 L579.8,293.4 L580.2,295.9 L580.7,298.4 L581.1,300.9 L581.5,303.4 L581.9,305.9 L582.2,308.4 L582.5,310.9 L582.8,313.5 L583.1,316 L583.3,318.5 L583.6,321 L583.8,323.5 L583.9,326.1 L584.1,328.6 L584.2,331.1 L584.3,333.6 L584.4,336.2 L584.5,338.7 L584.5,341.2 L584.5,343.8 L584.5,346.3 L584.4,348.8 L584.4,351.3 L584.3,353.9 L584.2,356.4 L584,358.9 L583.9,361.5 L583.7,364 L583.5,366.5 L583.3,369 L583,371.5 L582.7,374.1 L582.4,376.6 L582,379.1 L581.6,381.6 L581.2,384.1 L580.8,386.6 L580.3,389.1 L579.8,391.6 L579.3,394 L578.7,396.5 L578.1,399 L577.5,401.4 L576.8,403.9 L576.1,406.3 L575.4,408.7 L574.6,411.2 L573.8,413.6 L572.9,416 L572.1,418.3 L571.2,420.7 L570.3,423.1 L569.3,425.4 L568.3,427.8 L567.3,430.1 L566.3,432.4 L565.3,434.7 L564.2,437 L563.1,439.3 L562,441.6 L560.9,443.8 L559.7,446.1 L558.5,448.3 L557.4,450.5 L556.2,452.8 L554.9,455 L553.7,457.2 L552.4,459.4 L551.2,461.6 L549.9,463.7 L548.6,465.9 L547.3,468.1 L546,470.2 L544.6,472.4 L543.3,474.5 L542,476.6 L540.6,478.8 L539.2,480.9 L537.9,483 L536.5,485.1 L535.1,487.2 L533.7,489.3 L532.3,491.4 L530.8,493.5 L529.3,495.6 L527.8,497.6 L526.2,499.6 L524.6,501.6 L523,503.5 L521.3,505.5 L519.6,507.3 L517.8,509.1 L515.9,510.9 L514,512.6 L512.1,514.3 L510,515.9 L508,517.4 L505.9,518.8 L503.8,520.3 L501.6,521.6 L499.4,522.9 L497.1,524.1 L494.9,525.3 L492.6,526.4 L490.2,527.4 L487.9,528.4 L485.5,529.3 L483.1,530.2 L480.6,531 L478.2,531.7 L475.7,532.4 L473.3,533 L470.8,533.5 L468.2,534 L465.7,534.4 L463.2,534.7 L460.7,535 L458.1,535.2 L455.6,535.3 L453,535.4Z M457.5,123.1 L453,116.6 L460.9,116.4Z" fill="#2c89a0" fill-rule="nonzero"/>
<path d="M453.7,78.8 L455.8,80.1 L458,81.4 L460.2,82.7 L462.3,84.1 L464.4,85.4 L466.6,86.8 L468.7,88.2 L470.8,89.6 L472.9,91 L474.9,92.4 L477,93.9 L479.1,95.4 L481.1,96.8 L483.1,98.3 L485.1,99.9 L487.1,101.4 L489.1,103 L491.1,104.5 L493.1,106.1 L495,107.7 L497,109.3 L498.9,111 L500.8,112.6 L502.7,114.3 L504.6,116 L506.4,117.7 L508.3,119.4 L510.2,121.1 L512,122.8 L513.8,124.6 L515.6,126.3 L517.4,128.1 L519.2,129.9 L520.9,131.7 L522.7,133.5 L524.4,135.4 L526.1,137.2 L527.8,139.1 L529.5,141 L531.2,142.8 L532.9,144.7 L534.5,146.7 L536.2,148.6 L537.8,150.5 L539.4,152.5 L541,154.4 L542.5,156.4 L544.1,158.4 L545.6,160.4 L547.2,162.4 L548.7,164.4 L550.2,166.5 L551.6,168.5 L553.1,170.6 L554.6,172.6 L556,174.7 L557.4,176.8 L558.8,178.9 L560.2,181 L561.6,183.1 L562.9,185.2 L564.3,187.4 L565.6,189.5 L566.9,191.7 L568.2,193.9 L569.5,196 L570.7,198.2 L572,200.4 L573.2,202.6 L574.4,204.9 L575.6,207.1 L576.8,209.3 L577.9,211.6 L579.1,213.8 L580.2,216.1 L581.3,218.3 L582.4,220.6 L583.5,222.9 L584.5,225.2 L585.6,227.5 L586.6,229.8 L587.6,232.1 L588.6,234.4 L589.5,236.8 L590.5,239.1 L591.4,241.4 L592.3,243.8 L593.2,246.2 L594.1,248.5 L595,250.9 L595.8,253.3 L596.7,255.7 L597.5,258 L598.3,260.4 L599.1,262.8 L599.8,265.2 L600.5,267.7 L601.3,270.1 L602,272.5 L602.7,274.9 L603.3,277.4 L604,279.8 L604.6,282.3 L605.2,284.7 L605.8,287.2 L606.4,289.6 L606.9,292.1 L607.5,294.5 L608,297 L608.5,299.5 L609,302 L609.4,304.4 L609.9,306.9 L610.3,309.4 L610.7,311.9 L611.1,314.4 L611.5,316.9 L611.8,319.4 L612.1,321.9 L612.4,324.4 L612.7,326.9 L613,329.4 L613.2,331.9 L613.5,334.5 L613.7,337 L613.9,339.5 L614,342 L614.2,344.5 L614.3,347.1 L614.4,349.6 L614.5,352.1 L614.6,354.6 L614.6,357.1 L614.6,359.7 L614.6,362.2 L614.6,364.7 L614.6,367.2 L614.5,369.8 L614.4,372.3 L614.3,374.8 L614.2,377.3 L614.1,379.9 L613.9,382.4 L613.7,384.9 L613.5,387.4 L613.3,389.9 L613,392.4 L612.8,395 L612.5,397.5 L612.2,400 L611.8,402.5 L611.5,405 L611.1,407.5 L610.7,410 L610.3,412.4 L609.8,414.9 L609.3,417.4 L608.9,419.9 L608.3,422.4 L607.8,424.8 L607.3,427.3 L606.7,429.8 L606.1,432.2 L605.5,434.7 L604.8,437.1 L604.2,439.5 L603.5,442 L602.8,444.4 L602.1,446.8 L601.4,449.2 L600.6,451.7 L599.9,454.1 L599.1,456.5 L598.3,458.8 L597.4,461.2 L596.6,463.6 L595.7,466 L594.8,468.3 L593.9,470.7 L593,473 L592,475.4 L591.1,477.7 L590.1,480 L589.1,482.4 L588.1,484.7 L587,487 L586,489.3 L584.9,491.5 L583.8,493.8 L582.7,496.1 L581.6,498.4 L580.4,500.6 L579.3,502.8 L578.1,505.1 L576.9,507.3 L575.7,509.5 L574.4,511.7 L573.2,513.9 L571.9,516.1 L570.7,518.3 L569.4,520.4 L568,522.6 L566.7,524.7 L565.4,526.9 L564,529 L562.6,531.1 L561.2,533.2 L559.8,535.3 L558.4,537.4 L556.9,539.5 L555.5,541.5 L554,543.6 L552.5,545.6 L551,547.6 L549.5,549.6 L547.9,551.6 L546.4,553.6 L544.8,555.6 L543.2,557.6 L541.6,559.5 L540,561.5 L538.4,563.4 L536.7,565.3 L535.1,567.2 L533.4,569.1 L531.7,571 L530,572.8 L528.3,574.7 L526.6,576.5 L524.8,578.4 L523.1,580.2 L521.3,582 L519.5,583.8 L517.8,585.5 L515.9,587.3 L514.1,589.1 L512.3,590.8 L510.4,592.5 L508.6,594.2 L506.7,595.9 L504.8,597.6 L502.9,599.3 L501,600.9 L499.1,602.6 L497.2,604.2 L495.2,605.8 L493.3,607.4 L491.3,609 L489.3,610.5 L487.3,612.1 L485.3,613.6 L483.3,615.1 L481.3,616.6 L479.3,618.1 L477.2,619.6 L475.2,621.1 L473.1,622.5 L471,624 L468.9,625.4 L466.8,626.8 L464.7,628.2 L462.6,629.5 L460.5,630.9 L458.3,632.2 L457.3,630.5 L459.4,629.2 L461.5,627.8 L463.6,626.5 L465.7,625.1 L467.8,623.7 L469.9,622.3 L471.9,620.9 L474,619.4 L476,618 L478.1,616.5 L480.1,615 L482.1,613.5 L484.1,612 L486.1,610.5 L488.1,609 L490.1,607.4 L492,605.8 L494,604.2 L495.9,602.6 L497.8,601 L499.7,599.4 L501.6,597.8 L503.5,596.1 L505.4,594.4 L507.2,592.7 L509.1,591 L510.9,589.3 L512.7,587.6 L514.6,585.9 L516.3,584.1 L518.1,582.4 L519.9,580.6 L521.7,578.8 L523.4,577 L525.1,575.2 L526.9,573.3 L528.6,571.5 L530.2,569.6 L531.9,567.8 L533.6,565.9 L535.2,564 L536.9,562.1 L538.5,560.2 L540.1,558.2 L541.7,556.3 L543.2,554.4 L544.8,552.4 L546.4,550.4 L547.9,548.4 L549.4,546.4 L550.9,544.4 L552.4,542.4 L553.8,540.3 L555.3,538.3 L556.7,536.2 L558.2,534.2 L559.6,532.1 L560.9,530 L562.3,527.9 L563.7,525.8 L565,523.7 L566.3,521.5 L567.6,519.4 L568.9,517.2 L570.2,515.1 L571.5,512.9 L572.7,510.7 L573.9,508.5 L575.1,506.3 L576.3,504.1 L577.5,501.9 L578.6,499.7 L579.8,497.5 L580.9,495.2 L582,493 L583.1,490.7 L584.2,488.4 L585.2,486.1 L586.2,483.9 L587.3,481.6 L588.2,479.3 L589.2,476.9 L590.2,474.6 L591.1,472.3 L592,470 L592.9,467.6 L593.8,465.3 L594.7,462.9 L595.5,460.6 L596.4,458.2 L597.2,455.8 L598,453.4 L598.7,451 L599.5,448.7 L600.2,446.3 L600.9,443.8 L601.6,441.4 L602.3,439 L602.9,436.6 L603.5,434.2 L604.2,431.7 L604.7,429.3 L605.3,426.9 L605.9,424.4 L606.4,422 L606.9,419.5 L607.4,417 L607.8,414.6 L608.3,412.1 L608.7,409.6 L609.1,407.2 L609.5,404.7 L609.8,402.2 L610.2,399.7 L610.5,397.2 L610.8,394.7 L611.1,392.2 L611.3,389.7 L611.5,387.2 L611.7,384.7 L611.9,382.2 L612.1,379.7 L612.2,377.2 L612.3,374.7 L612.4,372.2 L612.5,369.7 L612.6,367.2 L612.6,364.7 L612.6,362.2 L612.6,359.7 L612.6,357.2 L612.6,354.7 L612.5,352.2 L612.4,349.7 L612.3,347.1 L612.2,344.6 L612,342.1 L611.9,339.6 L611.7,337.1 L611.5,334.6 L611.2,332.1 L611,329.6 L610.7,327.1 L610.4,324.6 L610.1,322.2 L609.8,319.7 L609.5,317.2 L609.1,314.7 L608.7,312.2 L608.3,309.7 L607.9,307.3 L607.5,304.8 L607,302.3 L606.5,299.9 L606,297.4 L605.5,295 L605,292.5 L604.4,290.1 L603.9,287.6 L603.3,285.2 L602.7,282.7 L602,280.3 L601.4,277.9 L600.7,275.5 L600,273.1 L599.3,270.6 L598.6,268.2 L597.9,265.8 L597.1,263.4 L596.4,261.1 L595.6,258.7 L594.8,256.3 L594,253.9 L593.1,251.6 L592.3,249.2 L591.4,246.9 L590.5,244.5 L589.6,242.2 L588.6,239.8 L587.7,237.5 L586.7,235.2 L585.7,232.9 L584.7,230.6 L583.7,228.3 L582.7,226 L581.6,223.7 L580.6,221.5 L579.5,219.2 L578.4,216.9 L577.3,214.7 L576.1,212.5 L575,210.2 L573.8,208 L572.6,205.8 L571.4,203.6 L570.2,201.4 L569,199.2 L567.7,197 L566.5,194.9 L565.2,192.7 L563.9,190.6 L562.6,188.4 L561.2,186.3 L559.9,184.2 L558.5,182.1 L557.2,180 L555.8,177.9 L554.3,175.8 L552.9,173.8 L551.5,171.7 L550,169.7 L548.6,167.6 L547.1,165.6 L545.6,163.6 L544,161.6 L542.5,159.6 L541,157.6 L539.4,155.7 L537.8,153.7 L536.2,151.8 L534.6,149.9 L533,148 L531.4,146.1 L529.7,144.2 L528,142.3 L526.4,140.4 L524.7,138.6 L523,136.7 L521.2,134.9 L519.5,133.1 L517.7,131.3 L516,129.5 L514.2,127.8 L512.4,126 L510.6,124.3 L508.8,122.5 L506.9,120.8 L505.1,119.1 L503.2,117.4 L501.4,115.8 L499.5,114.1 L497.6,112.5 L495.7,110.9 L493.7,109.3 L491.8,107.7 L489.8,106.1 L487.9,104.5 L485.9,103 L483.9,101.5 L481.9,99.9 L479.9,98.5 L477.9,97 L475.8,95.5 L473.8,94.1 L471.7,92.6 L469.7,91.2 L467.6,89.8 L465.5,88.4 L463.4,87.1 L461.3,85.7 L459.1,84.4 L457,83.1 L454.8,81.8 L452.7,80.5Z M461.7,633.1 L453,634.3 L458,627.1Z" fill="#5aa02c" fill-rule="nonzero"/>
<circle cx="55.5" cy="551" r="10.2" fill="none" stroke="#111" stroke-width="1.2"/>
<circle cx="55.5" cy="579.7" r="14.6" fill="none" stroke="#111" stroke-width="1.2"/>
<circle cx="55.5" cy="616.8" r="15.9" fill="none" stroke="#111" stroke-width="1.2"/>
<circle cx="55.5" cy="658.1" r="19.4" fill="none" stroke="#111" stroke-width="1.2"/>
<path d="M583.4,70.7 H617" stroke="#4a4a4a" stroke-width="1" fill="none"/>
<rect x="583.3" y="86.6" width="33.8" height="4.8" fill="#6a6a6a"/>
<rect x="583.3" y="102.8" width="33.8" height="9.7" fill="#6a6a6a"/>
<rect x="583.3" y="118" width="33.8" height="19.2" fill="#6a6a6a"/>
<rect x="583.3" y="142.5" width="33.8" height="38.8" fill="#6a6a6a"/>
<path d="M39.5,697 H381.3" stroke="#222" stroke-width="1.1" fill="none"/>
<path d="M380.8,697 v3.6M346.7,697 v2.2M312.6,697 v3.6M278.5,697 v2.2M244.4,697 v3.6M210.3,697 v2.2M176.2,697 v3.6M142.1,697 v2.2M108,697 v3.6M73.9,697 v2.2M39.8,697 v3.6" stroke="#222" stroke-width="1" fill="none"/>
<g style="filter:grayscale(1)">
<text x="118.6" y="85.2" font-size="15.3" font-weight="700" text-anchor="start" fill="#000" textLength="69.1" lengthAdjust="spacingAndGlyphs">Pooideae</text>
<text x="187.7" y="187" font-size="15.3" font-weight="700" text-anchor="start" fill="#000" textLength="84.6" lengthAdjust="spacingAndGlyphs">Oryzoideae</text>
<text x="84.2" y="266.6" font-size="15.3" font-weight="700" text-anchor="start" fill="#000" textLength="104.2" lengthAdjust="spacingAndGlyphs">Chloridoideae</text>
<text x="183.5" y="373.2" font-size="14.2" font-weight="400" text-anchor="start" fill="#000" textLength="105.9" lengthAdjust="spacingAndGlyphs">Andropogoneae</text>
<text x="106.1" y="481.2" font-size="15.3" font-weight="700" text-anchor="start" fill="#000" textLength="90.9" lengthAdjust="spacingAndGlyphs">Panicoideae</text>
<text x="164.2" y="563.4" font-size="14.2" font-weight="400" text-anchor="start" fill="#000" textLength="59.2" lengthAdjust="spacingAndGlyphs">Paniceae</text>
<text x="260.7" y="604" font-size="14.2" font-weight="400" text-anchor="start" fill="#000" textLength="63" lengthAdjust="spacingAndGlyphs">Panicinae</text>
<text x="206.8" y="669" font-size="14.2" font-weight="400" text-anchor="start" fill="#000" textLength="75.9" lengthAdjust="spacingAndGlyphs">Cenchrinae</text>
<text x="392.4" y="66.4" font-size="16" font-weight="700" text-anchor="start" fill="#000" textLength="9.9" lengthAdjust="spacingAndGlyphs">4</text>
<text x="392.4" y="103.7" font-size="16" font-weight="700" text-anchor="start" fill="#000" textLength="9.9" lengthAdjust="spacingAndGlyphs">0</text>
<text x="387.3" y="140.9" font-size="16" font-weight="700" text-anchor="start" fill="#000" textLength="20" lengthAdjust="spacingAndGlyphs">10</text>
<text x="392.4" y="178.2" font-size="16" font-weight="700" text-anchor="start" fill="#000" textLength="9.9" lengthAdjust="spacingAndGlyphs">0</text>
<text x="392.4" y="215.4" font-size="16" font-weight="700" text-anchor="start" fill="#000" textLength="9.9" lengthAdjust="spacingAndGlyphs">4</text>
<text x="392.4" y="252.7" font-size="16" font-weight="700" text-anchor="start" fill="#000" textLength="9.9" lengthAdjust="spacingAndGlyphs">9</text>
<text x="392.4" y="290" font-size="16" font-weight="700" text-anchor="start" fill="#000" textLength="9.9" lengthAdjust="spacingAndGlyphs">0</text>
<text x="392.4" y="327.2" font-size="16" font-weight="700" text-anchor="start" fill="#000" textLength="9.9" lengthAdjust="spacingAndGlyphs">0</text>
<text x="387.3" y="364.5" font-size="16" font-weight="700" text-anchor="start" fill="#000" textLength="20" lengthAdjust="spacingAndGlyphs">11</text>
<text x="392.4" y="401.7" font-size="16" font-weight="700" text-anchor="start" fill="#000" textLength="9.9" lengthAdjust="spacingAndGlyphs">3</text>
<text x="392.4" y="439" font-size="16" font-weight="700" text-anchor="start" fill="#000" textLength="9.9" lengthAdjust="spacingAndGlyphs">4</text>
<text x="387.3" y="476.3" font-size="16" font-weight="700" text-anchor="start" fill="#000" textLength="20" lengthAdjust="spacingAndGlyphs">10</text>
<text x="387.3" y="513.5" font-size="16" font-weight="700" text-anchor="start" fill="#000" textLength="20" lengthAdjust="spacingAndGlyphs">20</text>
<text x="387.3" y="550.8" font-size="16" font-weight="700" text-anchor="start" fill="#000" textLength="20" lengthAdjust="spacingAndGlyphs">34</text>
<text x="392.4" y="588" font-size="16" font-weight="700" text-anchor="start" fill="#000" textLength="9.9" lengthAdjust="spacingAndGlyphs">8</text>
<text x="387.3" y="625.3" font-size="16" font-weight="700" text-anchor="start" fill="#000" textLength="20" lengthAdjust="spacingAndGlyphs">19</text>
<text x="392.4" y="662.6" font-size="16" font-weight="700" text-anchor="start" fill="#000" textLength="9.9" lengthAdjust="spacingAndGlyphs">7</text>
<text x="414.5" y="66.4" font-size="16" font-weight="400" text-anchor="start" fill="#000" textLength="20.1" lengthAdjust="spacingAndGlyphs">Bd</text>
<text x="414.5" y="103.7" font-size="16" font-weight="400" text-anchor="start" fill="#000" textLength="19.7" lengthAdjust="spacingAndGlyphs">Hv</text>
<text x="414.5" y="140.9" font-size="16" font-weight="400" text-anchor="start" fill="#000" textLength="17" lengthAdjust="spacingAndGlyphs">Ta</text>
<text x="414.5" y="178.2" font-size="16" font-weight="400" text-anchor="start" fill="#000" textLength="19.6" lengthAdjust="spacingAndGlyphs">Os</text>
<text x="414.5" y="215.4" font-size="16" font-weight="400" text-anchor="start" fill="#000" textLength="17.5" lengthAdjust="spacingAndGlyphs">Lp</text>
<text x="414.5" y="252.7" font-size="16" font-weight="400" text-anchor="start" fill="#000" textLength="15" lengthAdjust="spacingAndGlyphs">Et</text>
<text x="414.5" y="290" font-size="16" font-weight="400" text-anchor="start" fill="#000" textLength="17.4" lengthAdjust="spacingAndGlyphs">Ot</text>
<text x="414.5" y="327.2" font-size="16" font-weight="400" text-anchor="start" fill="#000" textLength="13.9" lengthAdjust="spacingAndGlyphs">Zj</text>
<text x="414.5" y="364.5" font-size="16" font-weight="400" text-anchor="start" fill="#000" textLength="24.5" lengthAdjust="spacingAndGlyphs">Zm</text>
<text x="414.5" y="401.7" font-size="16" font-weight="400" text-anchor="start" fill="#000" textLength="19" lengthAdjust="spacingAndGlyphs">Sb</text>
<text x="414.5" y="439" font-size="16" font-weight="400" text-anchor="start" fill="#000" textLength="20.4" lengthAdjust="spacingAndGlyphs">Do</text>
<text x="414.5" y="476.3" font-size="16" font-weight="400" text-anchor="start" fill="#000" textLength="17.3" lengthAdjust="spacingAndGlyphs">Ec</text>
<text x="414.5" y="513.5" font-size="16" font-weight="400" text-anchor="start" fill="#000" textLength="17.7" lengthAdjust="spacingAndGlyphs">As</text>
<text x="414.5" y="550.8" font-size="16" font-weight="400" text-anchor="start" fill="#000" textLength="17.5" lengthAdjust="spacingAndGlyphs">Pv</text>
<text x="414.5" y="588" font-size="16" font-weight="400" text-anchor="start" fill="#000" textLength="18.2" lengthAdjust="spacingAndGlyphs">Ph</text>
<text x="414.5" y="625.3" font-size="16" font-weight="400" text-anchor="start" fill="#000" textLength="19.3" lengthAdjust="spacingAndGlyphs">Ca</text>
<text x="414.5" y="662.6" font-size="16" font-weight="400" text-anchor="start" fill="#000" textLength="13.3" lengthAdjust="spacingAndGlyphs">Si</text>
<text x="43.3" y="532.6" font-size="13.8" font-weight="400" text-anchor="start" fill="#000" textLength="91.9" lengthAdjust="spacingAndGlyphs">No. of species</text>
<text x="83.2" y="555.1" font-size="12" font-weight="400" text-anchor="start" fill="#000" textLength="21.4" lengthAdjust="spacingAndGlyphs">100</text>
<text x="83.2" y="583.8" font-size="12" font-weight="400" text-anchor="start" fill="#000" textLength="21.4" lengthAdjust="spacingAndGlyphs">500</text>
<text x="83.2" y="620.7" font-size="12" font-weight="400" text-anchor="start" fill="#000" textLength="28.6" lengthAdjust="spacingAndGlyphs">1000</text>
<text x="83.2" y="658.1" font-size="12" font-weight="400" text-anchor="start" fill="#000" textLength="28.6" lengthAdjust="spacingAndGlyphs">5000</text>
<text x="565.5" y="39.6" font-size="13.8" font-weight="400" text-anchor="middle" fill="#000" textLength="97" lengthAdjust="spacingAndGlyphs">No. of LGT per</text>
<text x="565.5" y="55.5" font-size="13.8" font-weight="400" text-anchor="middle" fill="#000" textLength="77" lengthAdjust="spacingAndGlyphs">1000 genes</text>
<text x="553.5" y="74.9" font-size="11.5" font-weight="400" text-anchor="start" fill="#000" textLength="23.8" lengthAdjust="spacingAndGlyphs">0.01</text>
<text x="553.5" y="93.2" font-size="11.5" font-weight="400" text-anchor="start" fill="#000" textLength="23.8" lengthAdjust="spacingAndGlyphs">0.05</text>
<text x="553.5" y="111.4" font-size="11.5" font-weight="400" text-anchor="start" fill="#000" textLength="23.8" lengthAdjust="spacingAndGlyphs">0.10</text>
<text x="553.5" y="129.8" font-size="11.5" font-weight="400" text-anchor="start" fill="#000" textLength="23.8" lengthAdjust="spacingAndGlyphs">0.20</text>
<text x="552.8" y="159.9" font-size="11.5" font-weight="400" text-anchor="start" fill="#000" textLength="23.8" lengthAdjust="spacingAndGlyphs">0.40</text>
<text x="381.4" y="717.4" font-size="12.2" font-weight="400" text-anchor="middle" fill="#000" textLength="7.7" lengthAdjust="spacingAndGlyphs">0</text>
<text x="312.8" y="717.4" font-size="12.2" font-weight="400" text-anchor="middle" fill="#000" textLength="15.3" lengthAdjust="spacingAndGlyphs">10</text>
<text x="243.8" y="717.4" font-size="12.2" font-weight="400" text-anchor="middle" fill="#000" textLength="15.3" lengthAdjust="spacingAndGlyphs">20</text>
<text x="175.7" y="717.4" font-size="12.2" font-weight="400" text-anchor="middle" fill="#000" textLength="15.3" lengthAdjust="spacingAndGlyphs">30</text>
<text x="110.5" y="717.4" font-size="12.2" font-weight="400" text-anchor="middle" fill="#000" textLength="15.3" lengthAdjust="spacingAndGlyphs">40</text>
<text x="41.8" y="717.4" font-size="12.2" font-weight="400" text-anchor="middle" fill="#000" textLength="15.3" lengthAdjust="spacingAndGlyphs">50</text>
<text x="394.2" y="717.4" font-size="12.2" font-weight="400" text-anchor="start" fill="#000" textLength="22.2" lengthAdjust="spacingAndGlyphs">Myr</text>
</g>
</svg></body></html>
